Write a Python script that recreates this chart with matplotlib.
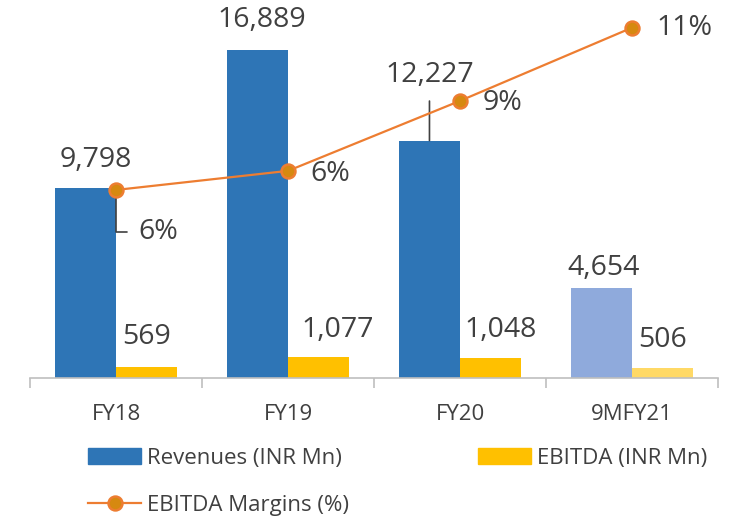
import matplotlib
matplotlib.use("Agg")
import numpy as np
from matplotlib import pyplot as plt
from matplotlib.patches import Patch
from matplotlib.lines import Line2D

# chart data
periods = ['FY18', 'FY19', 'FY20', '9MFY21']
revenues = [9798, 16889, 12227, 4654]
ebitda = [569, 1077, 1048, 506]
margins = [5.8, 6.4, 8.6, 10.9]
margin_labels = ['6%', '6%', '9%', '11%']

# colours
blue, blue_light = '#2E75B6', '#8FAADC'
yellow, yellow_light = '#FFC000', '#FFD966'
orange, marker_fill = '#ED7D31', '#D68910'
text_col = '#404040'

plt.rcParams['font.family'] = ['Open Sans', 'DejaVu Sans']

fig = plt.figure(figsize=(7.43, 5.19), dpi=100)
ax = fig.add_axes([30 / 743, 1 - 378 / 519, 688 / 743, 378 / 519])
ax2 = ax.twinx()

x = np.arange(len(periods))
w = 0.355
rev_cols = [blue] * 3 + [blue_light]
ebit_cols = [yellow] * 3 + [yellow_light]
ax.bar(x - w / 2, revenues, w, color=rev_cols, zorder=2)
ax.bar(x + w / 2, ebitda, w, color=ebit_cols, zorder=2)

ax.set_xlim(-0.5, 3.5)
ax.set_ylim(0, 19464)
ax2.set_ylim(-0.11, 11.77)

ax2.plot(x, margins, color=orange, lw=1.6, marker='o', ms=10,
         mfc=marker_fill, mec=orange, mew=1.8, zorder=3)

# axes styling
for a in (ax, ax2):
    for s in ['top', 'left', 'right']:
        a.spines[s].set_visible(False)
    a.set_yticks([])
ax.spines['bottom'].set_color('#BFBFBF')
ax.spines['bottom'].set_linewidth(1.2)
ax2.spines['bottom'].set_visible(False)
ax.set_xticks(x)
ax.set_xticklabels(periods, fontsize=16, color=text_col)
ax.tick_params(axis='x', which='major', length=0, pad=19)
ax.set_xticks(np.arange(-0.5, 4, 1), minor=True)
ax.tick_params(axis='x', which='minor', length=7, color='#BFBFBF', width=1.2)

# data labels
lab_kw = dict(textcoords='offset pixels', ha='center', va='center',
              fontsize=20.5, color=text_col)
rev_off = [(10, 28), (4, 30), (0, 66), (2, 20)]
for i, v in enumerate(revenues):
    if i == 2:
        ax.annotate(f'{v:,}', (x[i] - w / 2, v), xytext=rev_off[i],
                    arrowprops=dict(arrowstyle='-', color=text_col, lw=1.2,
                                    shrinkA=7, shrinkB=0), **lab_kw)
    else:
        ax.annotate(f'{v:,}', (x[i] - w / 2, v), xytext=rev_off[i], **lab_kw)

ebit_off = [(0, 30), (19, 27), (10, 28), (0, 28)]
for i, v in enumerate(ebitda):
    ax.annotate(f'{v:,}', (x[i] + w / 2, v), xytext=ebit_off[i], **lab_kw)

marg_off = [(42, -42), (42, -3), (43, -2), (52, 0)]
for i, v in enumerate(margins):
    if i == 0:
        ax2.annotate(margin_labels[i], (x[i], v), xytext=marg_off[i],
                     arrowprops=dict(arrowstyle='-', color=text_col, lw=1.2,
                                     connectionstyle='angle,angleA=0,angleB=90,rad=0',
                                     relpos=(0, 0.5), shrinkA=6, shrinkB=0),
                     zorder=1, **lab_kw)
    else:
        ax2.annotate(margin_labels[i], (x[i], v), xytext=marg_off[i], **lab_kw)

# legend
handles = [Patch(color=blue), Line2D([], [], color=orange, lw=1.6, marker='o', ms=10,
                                     mfc=marker_fill, mec=orange, mew=1.8),
           Patch(color=yellow)]
names = ['Revenues (INR Mn)', 'EBITDA Margins (%)', 'EBITDA (INR Mn)']
fig.legend(handles, names, ncol=2, frameon=False, fontsize=16,
           labelcolor=text_col, loc='upper left', bbox_to_anchor=(68 / 743, 1 - 428 / 519),
           handlelength=2.4, handleheight=0.75, handletextpad=0.25,
           columnspacing=5.8, labelspacing=1.15)

fig.savefig('out.png', dpi=100)
